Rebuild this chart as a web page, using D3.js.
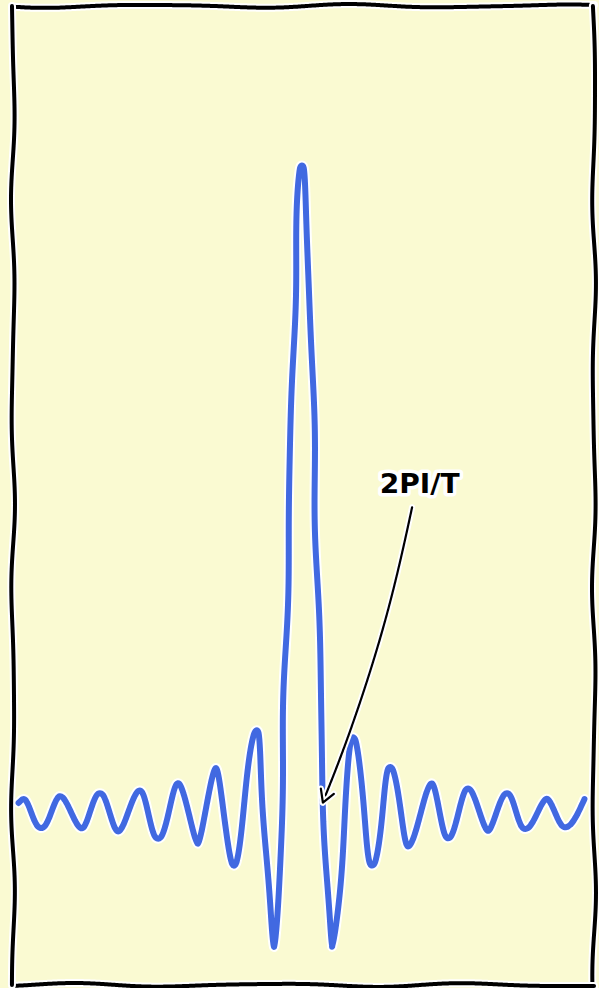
<!DOCTYPE html>
<html>
<head>
<meta charset="utf-8">
<script src="https://cdn.jsdelivr.net/npm/d3@7/dist/d3.min.js"></script>
<style>
  html, body { margin: 0; padding: 0; background: #fafad2; }
  svg { display: block; }
</style>
</head>
<body>
<script>
// data (sinc-like samples)
const xs = [-14.74, -14.43, -13.55, -12.57, -11.44, -10.51, -9.58, -8.44, -7.51, -6.48,
            -5.45, -4.52, -3.59, -2.40, -1.52, -0.08, 1.47, 2.56, 3.54, 4.47,
            5.39, 6.63, 7.46, 8.49, 9.53, 10.51, 11.44, 12.57, 13.50, 14.53];
const ys = [0.015, 0.022, -0.023, 0.026, -0.026, 0.029, -0.031, 0.034, -0.040, 0.046,
            -0.051, 0.070, -0.083, 0.127, -0.210, 1.0, -0.210, 0.116, -0.082, 0.070,
            -0.054, 0.046, -0.040, 0.037, -0.031, 0.029, -0.025, 0.023, -0.023, 0.020];
const xDomain = [-15, 15];
const yDomain = [-0.267, 1.246];

// annotation
const annoText = "2PI/T";
const annoPoint = [1.0, 0.015];
const annoTextPos = [6.0, 0.505];

const W = 599, H = 988;
const svg = d3.select("body").append("svg").attr("width", W).attr("height", H);

const x = d3.scaleLinear().domain(xDomain).range([13, 594]);
const y = d3.scaleLinear().domain(yDomain).range([985, 6]);

// xkcd-ish wobble: resample a path and push it sideways by a smooth wave
function sketchy(d, amp, wl, phase) {
  const tmp = svg.append("path").attr("d", d).attr("fill", "none");
  const node = tmp.node();
  const L = node.getTotalLength();
  const n = Math.max(2, Math.ceil(L / 2));
  const out = [];
  for (let i = 0; i <= n; i++) {
    const s = i * L / n;
    const p = node.getPointAtLength(s);
    const a = node.getPointAtLength(Math.max(0, s - 1.5));
    const b = node.getPointAtLength(Math.min(L, s + 1.5));
    let tx = b.x - a.x, ty = b.y - a.y;
    const tl = Math.hypot(tx, ty) || 1;
    tx /= tl; ty /= tl;
    const off = amp * (0.75 * Math.sin(2 * Math.PI * s / wl + phase)
                     + 0.25 * Math.sin(2 * Math.PI * s / (wl * 0.62) + phase * 1.7));
    out.push([p.x - ty * off, p.y + tx * off]);
  }
  tmp.remove();
  return d3.line().curve(d3.curveBasis)(out);
}

function strokes(g, d, color, w, halo) {
  g.append("path").attr("d", d).attr("fill", "none").attr("stroke", "white")
    .attr("stroke-width", w + halo).attr("stroke-linejoin", "round").attr("stroke-linecap", "round");
  g.append("path").attr("d", d).attr("fill", "none").attr("stroke", color)
    .attr("stroke-width", w).attr("stroke-linejoin", "round").attr("stroke-linecap", "round");
}

// the curve
const pts = xs.map((d, i) => [d, ys[i]]);
const line = d3.line().x(d => x(d[0])).y(d => y(d[1])).curve(d3.curveMonotoneX);
strokes(svg.append("g"), sketchy(line(pts), 1.4, 260, 0.4), "royalblue", 6, 4);

// annotation arrow
const tx = x(annoTextPos[0]), ty = y(annoTextPos[1]);
const ax = x(annoPoint[0]), ay = y(annoPoint[1]);
const sx = tx - 7, sy = ty + 22;
const cx = (sx + ax) / 2 + 14, cy = (sy + ay) / 2;
const arrowD = sketchy(`M${sx},${sy} Q${cx},${cy} ${ax},${ay}`, 0.7, 320, 1.1);
const dx = ax - cx, dy = ay - cy, len = Math.hypot(dx, dy);
const ux = dx / len, uy = dy / len;
const hl = 14, ang = Math.PI / 6;
const w1 = [ax - hl * (ux * Math.cos(ang) - uy * Math.sin(ang)), ay - hl * (uy * Math.cos(ang) + ux * Math.sin(ang))];
const w2 = [ax - hl * (ux * Math.cos(-ang) - uy * Math.sin(-ang)), ay - hl * (uy * Math.cos(-ang) + ux * Math.sin(-ang))];
const headD = `M${w1[0]},${w1[1]} L${ax},${ay} L${w2[0]},${w2[1]}`;
const ag = svg.append("g");
strokes(ag, arrowD, "black", 2.2, 4);
strokes(ag, headD, "black", 2.2, 4);

svg.append("text")
  .attr("x", tx).attr("y", ty)
  .attr("text-anchor", "middle").attr("dominant-baseline", "middle")
  .attr("font-family", "'DejaVu Sans', sans-serif").attr("font-weight", "bold")
  .attr("font-size", 26)
  .attr("textLength", 80).attr("lengthAdjust", "spacingAndGlyphs")
  .attr("fill", "black").attr("stroke", "white").attr("stroke-width", 7)
  .attr("stroke-linejoin", "round").attr("paint-order", "stroke")
  .text(annoText);

// frame, one wobbly stroke per side
const x0 = x(xDomain[0]), x1 = x(xDomain[1]), y0 = y(yDomain[0]), y1 = y(yDomain[1]);
const sides = [
  [[x0, y1], [x1, y1], 0.3],
  [[x1, y1], [x1, y0], 2.1],
  [[x1, y0], [x0, y0], 4.0],
  [[x0, y0], [x0, y1], 5.2]
];
const fg = svg.append("g");
sides.forEach(([a, b, ph]) => {
  strokes(fg, sketchy(`M${a[0]},${a[1]} L${b[0]},${b[1]}`, 2.0, 200, ph), "black", 4, 4);
});
</script>
</body>
</html>
